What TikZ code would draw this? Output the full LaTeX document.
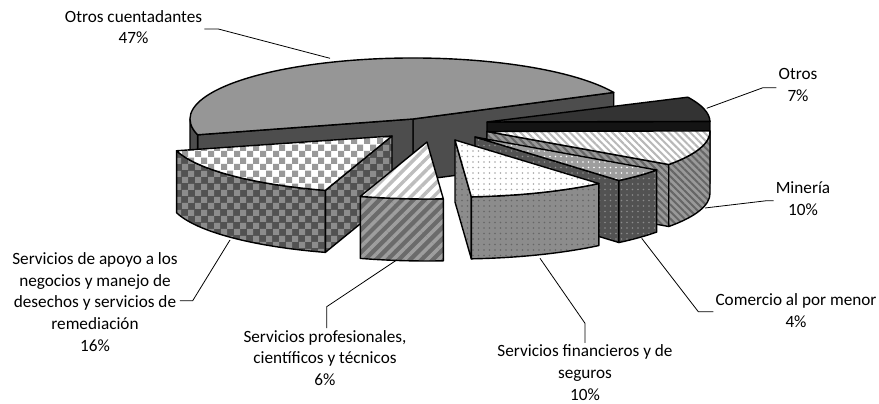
\documentclass[tikz,border=0pt]{standalone}
\usepackage{fontspec}
\setmainfont{Carlito}
\usetikzlibrary{patterns,patterns.meta}

\pgfdeclarepatternformonly{checker}{\pgfpointorigin}{\pgfqpoint{13pt}{13pt}}{\pgfqpoint{13pt}{13pt}}{%
  \pgfpathrectangle{\pgfpointorigin}{\pgfqpoint{6.5pt}{6.5pt}}%
  \pgfpathrectangle{\pgfqpoint{6.5pt}{6.5pt}}{\pgfqpoint{6.5pt}{6.5pt}}%
  \pgfusepath{fill}}

\definecolor{bigtop}{HTML}{969696}
\definecolor{bigside}{HTML}{4D4D4D}
\definecolor{othtop}{HTML}{333333}
\definecolor{othcut}{HTML}{141414}

\newcommand{\pieRx}{223}
\newcommand{\pieRy}{57}
\newcommand{\pieH}{62}
% apex x, apex y, start angle, end angle, top style, side style
\newcommand{\pieslice}[6]{%
  \coordinate (apex) at (#1,#2);
  \pgfmathsetmacro{\cosS}{cos(#3)}%
  \pgfmathsetmacro{\cosE}{cos(#4)}%
  \pgfmathsetmacro{\visS}{max(#3,180)}%
  \pgfmathsetmacro{\visE}{min(#4,360)}%
  \ifdim\cosS pt>0pt
    \path[#6] (apex) -- ++(#3:\pieRx pt and \pieRy pt) -- ++(0,-\pieH) -- ++(#3+180:\pieRx pt and \pieRy pt) -- cycle;
  \fi
  \ifdim\cosE pt<0pt
    \path[#6] (apex) -- ++(#4:\pieRx pt and \pieRy pt) -- ++(0,-\pieH) -- ++(#4+180:\pieRx pt and \pieRy pt) -- cycle;
  \fi
  \ifdim\visS pt<\visE pt
    \path[#6] (apex) ++(\visS:\pieRx pt and \pieRy pt)
      arc[start angle=\visS, end angle=\visE, x radius=\pieRx pt, y radius=\pieRy pt]
      -- ++(0,-\pieH)
      arc[start angle=\visE, end angle=\visS, x radius=\pieRx pt, y radius=\pieRy pt] -- cycle;
  \fi
  \path[#5] (apex) -- ++(#3:\pieRx pt and \pieRy pt)
    arc[start angle=#3, end angle=#4, x radius=\pieRx pt, y radius=\pieRy pt] -- cycle;
}

\tikzset{
  edge/.style={draw=black, line width=1.4pt, line join=round},
  leader/.style={draw=black, line width=0.8pt},
  lbl/.style={font=\fontsize{17.2}{21.6}\selectfont, align=center, inner sep=2pt},
  bigtopface/.style={edge, fill=bigtop},
  bigsideface/.style={edge, fill=bigside},
  othtopface/.style={edge, fill=othtop},
  othsideface/.style={edge, fill=othcut},
  chktop/.style={edge, preaction={fill=white}, preaction={pattern=checker, pattern color=black!40}},
  chkside/.style={edge, preaction={fill=black!68}, preaction={pattern=checker, pattern color=black!45}},
  proftop/.style={edge, preaction={fill=white}, preaction={pattern={Lines[angle=45,distance=8pt,line width=3.5pt]}, pattern color=black!26}},
  profside/.style={edge, preaction={fill=black!58}, preaction={pattern={Lines[angle=45,distance=8pt,line width=3.5pt]}, pattern color=black!38}},
  fintop/.style={edge, preaction={fill=white}, preaction={pattern={Dots[radius=0.9pt,distance=5.5pt]}, pattern color=black!35}},
  finside/.style={edge, preaction={fill=black!45}, preaction={pattern={Dots[radius=0.9pt,distance=5.5pt]}, pattern color=black!60}},
  comtop/.style={edge, preaction={fill=black!38}, preaction={pattern={Dots[radius=0.9pt,distance=5.5pt]}, pattern color=white}},
  comside/.style={edge, preaction={fill=black!68}, preaction={pattern={Dots[radius=0.9pt,distance=5.5pt]}, pattern color=black!45}},
  mintop/.style={edge, preaction={fill=white}, preaction={pattern={Lines[angle=-45,distance=5pt,line width=2pt]}, pattern color=black!28}},
  minside/.style={edge, preaction={fill=black!40}, preaction={pattern={Lines[angle=-45,distance=5pt,line width=2pt]}, pattern color=black!60}}
}

\begin{document}
\begin{tikzpicture}[x=1pt,y=1pt]
  \useasboundingbox (0,0) rectangle (879,404);

  % slices, back to front
  \renewcommand{\pieRy}{61}
  \pieslice{413}{285}{25.8}{195}{bigtopface}{bigsideface}
  \renewcommand{\pieRy}{57}
  \pieslice{487}{282}{0.6}{25.8}{othtopface}{othsideface}
  \pieslice{487}{272.5}{324.6}{360.6}{mintop}{minside}
  \pieslice{475}{267}{310.2}{324.6}{comtop}{comside}
  \pieslice{455}{264}{274.2}{310.2}{fintop}{finside}
  \pieslice{392}{268}{195}{252.6}{chktop}{chkside}
  \pieslice{427}{262}{252.6}{274.2}{proftop}{profside}

  % labels
  \node[lbl] (lblBig) at (133.5,377) {Otros cuentadantes\\47\%};
  \node[lbl] (lblOth) at (798,319) {Otros\\7\%};
  \node[lbl] (lblMin) at (803,205.6) {Minería\\10\%};
  \node[lbl] (lblCom) at (796,93.5) {Comercio al por menor\\4\%};
  \node[lbl] (lblFin) at (585,31.3) {Servicios financieros y de\\seguros\\10\%};
  \node[lbl] (lblProf) at (325,46) {Servicios profesionales,\\científicos y técnicos\\6\%};
  \node[lbl] (lblChk) at (95,102) {Servicios de apoyo a los\\negocios y manejo de\\desechos y servicios de\\remediación\\16\%};

  % leader lines
  \coordinate (tipBig) at (330,345.7);  \coordinate (bendBig) at (218.3,375);
  \coordinate (tipOth) at (706.7,295.7); \coordinate (bendOth) at (763,316.3);
  \coordinate (tipMin) at (705,196);    \coordinate (bendMin) at (766.7,203.3);
  \coordinate (tipCom) at (641.7,165.7); \coordinate (bendCom) at (698.3,92.3);
  \coordinate (tipFin) at (540,145.7);  \coordinate (bendFin) at (585,80.7);
  \coordinate (tipProf) at (396.7,144); \coordinate (bendProf) at (326.7,97.3);
  \coordinate (tipChk) at (230,164);    \coordinate (bendChk) at (192.7,103.3);

  \draw[leader] (tipBig) -- (bendBig) -- (bendBig -| lblBig.east);
  \draw[leader] (tipOth) -- (bendOth) -- (bendOth -| lblOth.west);
  \draw[leader] (tipMin) -- (bendMin) -- (bendMin -| lblMin.west);
  \draw[leader] (tipCom) -- (bendCom) -- (bendCom -| lblCom.west);
  \draw[leader] (tipFin) -- (bendFin) -- (bendFin |- lblFin.north);
  \draw[leader] (tipProf) -- (bendProf) -- (bendProf |- lblProf.north);
  \draw[leader] (tipChk) -- (bendChk) -- (bendChk -| lblChk.east);
\end{tikzpicture}
\end{document}
